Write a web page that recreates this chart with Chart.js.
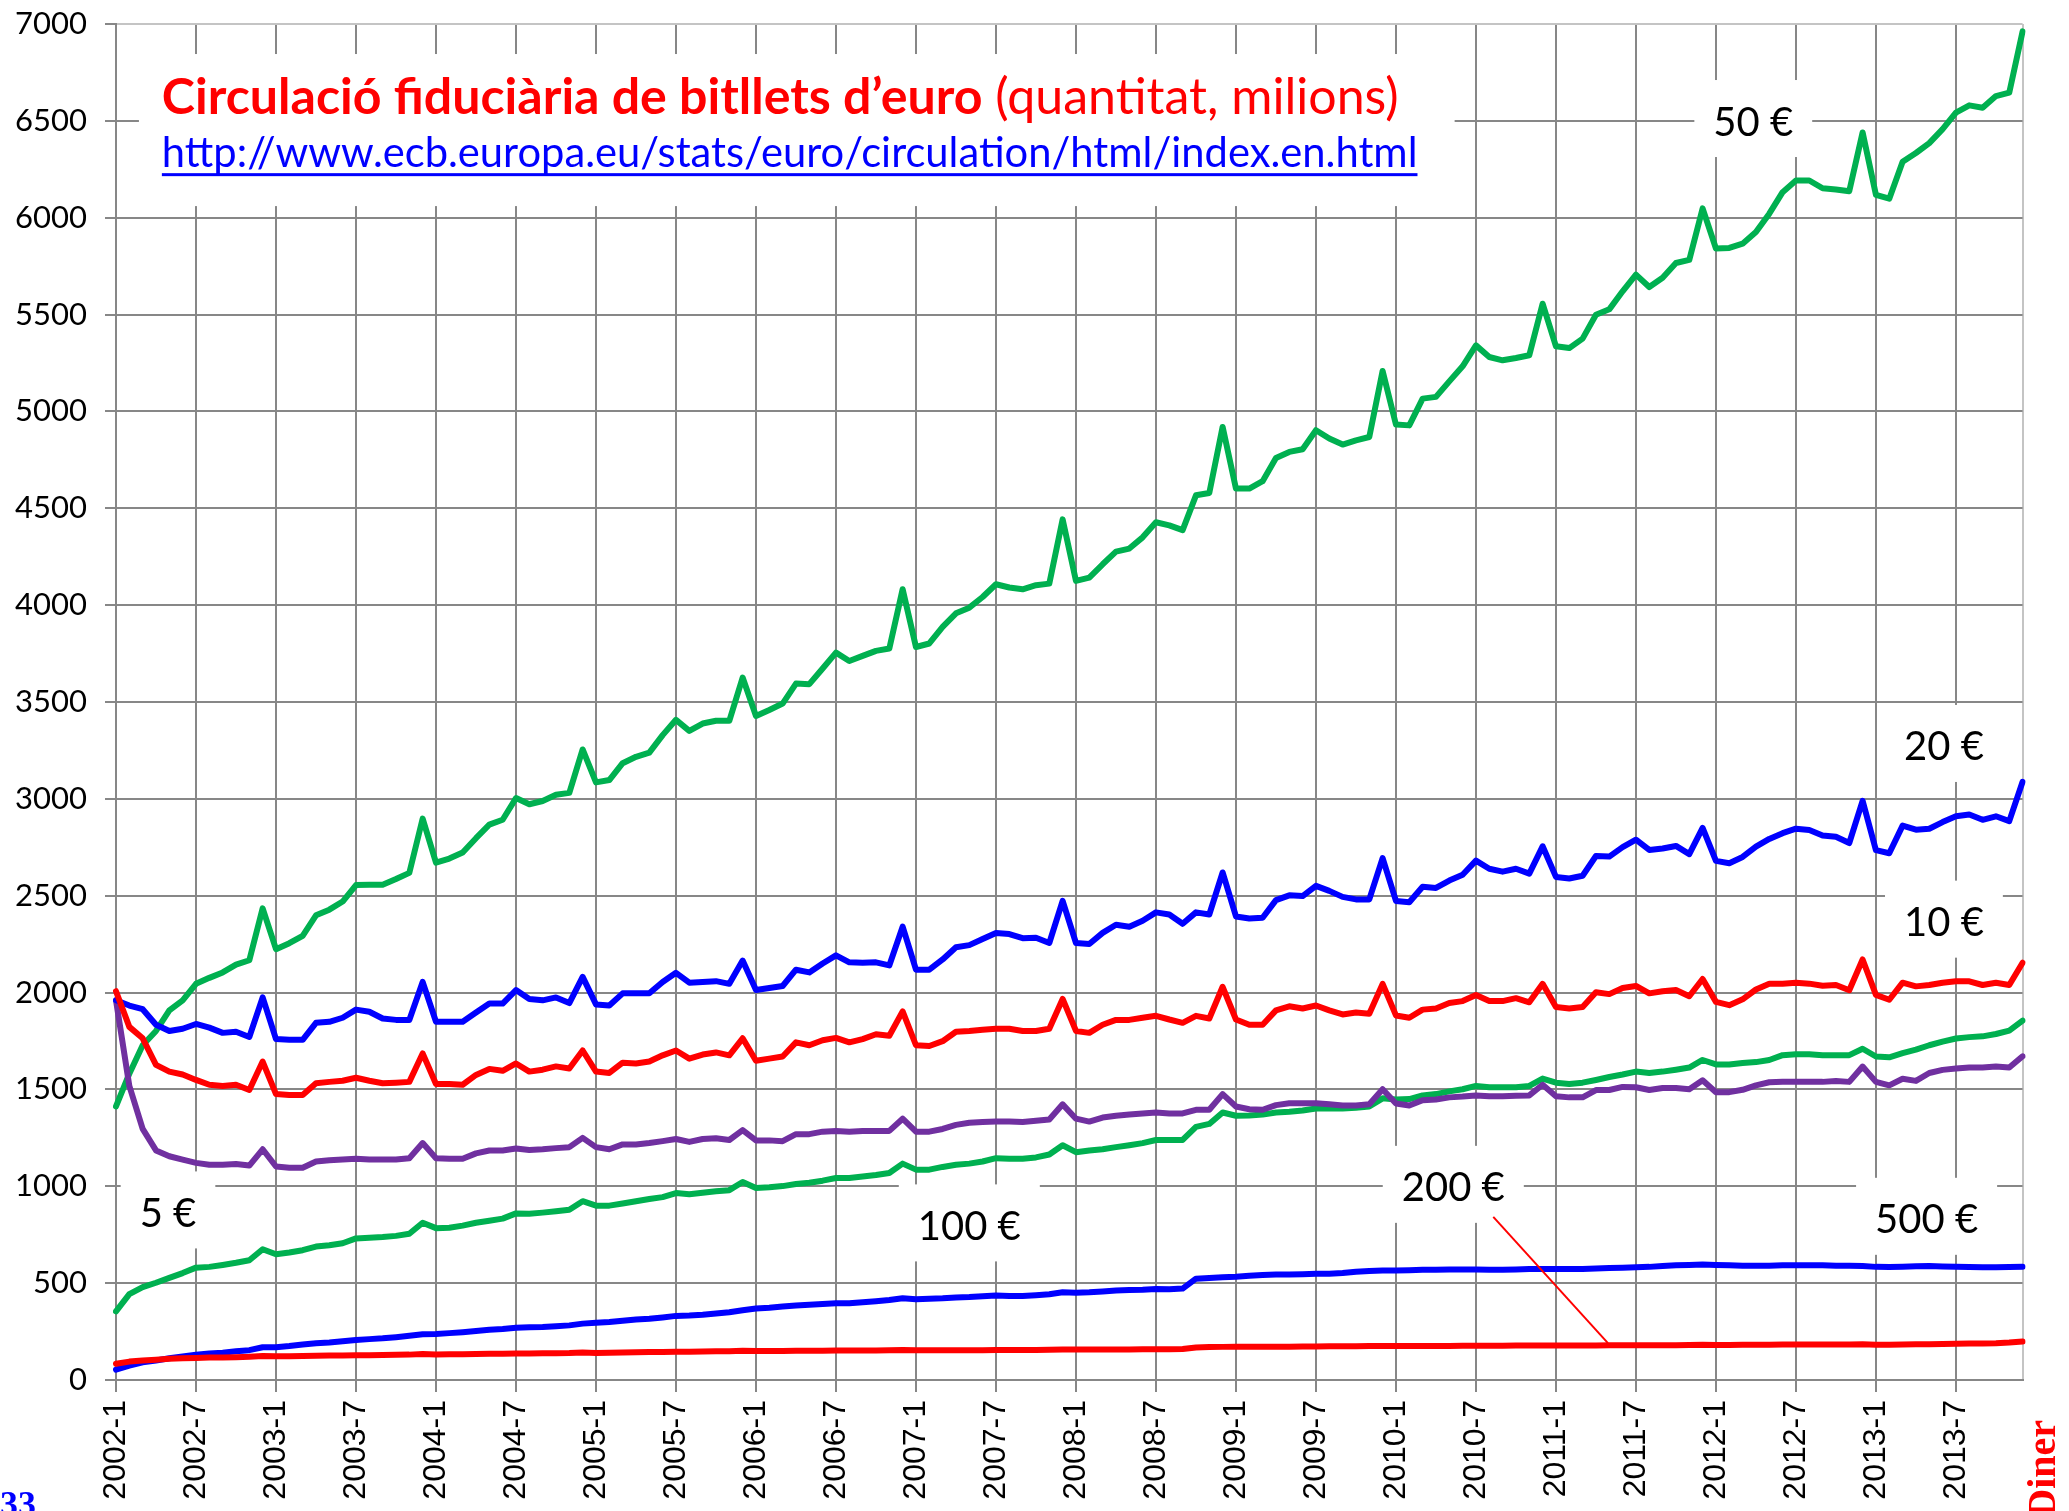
<!DOCTYPE html>
<html>
<head>
<meta charset="utf-8">
<script src="https://cdn.jsdelivr.net/npm/chart.js@4.4.1/dist/chart.umd.min.js"></script>
<style>
  html, body { margin: 0; padding: 0; background: #fff; }
  #wrap { width: 2069px; height: 1511px; }
</style>
</head>
<body>
<div id="wrap"><canvas id="chart" width="2069" height="1511"></canvas></div>
<script>
const years = [2002, 2003, 2004, 2005, 2006, 2007, 2008, 2009, 2010, 2011, 2012, 2013];
const months = [1, 2, 3, 4, 5, 6, 7, 8, 9, 10, 11, 12];

// bitllets en circulació, milions (llegits del gràfic)
const b5 = [
  1960,1518,1296,1185,1155,1138,1121,1111,1111,1115,1107,1191,
  1102,1096,1096,1128,1134,1138,1142,1138,1138,1138,1145,1223,
  1145,1142,1142,1170,1185,1185,1195,1187,1191,1197,1202,1250,
  1202,1191,1216,1216,1223,1233,1244,1229,1244,1248,1239,1290,
  1237,1237,1233,1269,1269,1282,1286,1282,1286,1286,1286,1349,
  1282,1282,1296,1317,1328,1332,1334,1334,1332,1338,1345,1423,
  1349,1334,1355,1364,1370,1376,1381,1376,1376,1395,1395,1476,
  1412,1398,1395,1419,1429,1429,1429,1423,1417,1417,1423,1501,
  1427,1417,1444,1448,1459,1463,1469,1465,1465,1467,1469,1524,
  1465,1459,1459,1497,1497,1513,1511,1497,1507,1507,1501,1547,
  1486,1486,1498,1521,1537,1539,1539,1539,1539,1544,1539,1618,
  1539,1521,1555,1544,1585,1601,1608,1613,1613,1618,1613,1671
];
const b10 = [
  2007,1823,1764,1627,1592,1577,1549,1524,1518,1524,1497,1644,
  1476,1471,1471,1532,1539,1545,1560,1545,1532,1535,1539,1686,
  1528,1528,1524,1575,1606,1596,1634,1592,1602,1619,1608,1701,
  1592,1585,1638,1634,1644,1676,1701,1659,1680,1691,1676,1764,
  1648,1659,1670,1743,1728,1754,1766,1743,1760,1785,1777,1903,
  1728,1724,1749,1798,1802,1808,1813,1813,1802,1802,1813,1967,
  1802,1792,1834,1859,1859,1870,1880,1861,1844,1880,1866,2030,
  1861,1834,1834,1908,1929,1918,1933,1908,1887,1897,1891,2045,
  1882,1870,1912,1918,1946,1956,1987,1956,1956,1971,1950,2045,
  1925,1918,1925,2002,1992,2024,2034,1996,2007,2013,1981,2070,
  1952,1935,1965,2016,2046,2046,2051,2046,2035,2039,2012,2171,
  1988,1963,2051,2032,2039,2051,2058,2058,2039,2051,2039,2154
];
const b20 = [
  1960,1933,1914,1834,1802,1813,1838,1819,1792,1798,1771,1975,
  1760,1756,1756,1844,1849,1870,1912,1901,1866,1859,1859,2055,
  1849,1849,1849,1897,1943,1943,2013,1967,1960,1975,1946,2081,
  1939,1933,1996,1996,1996,2055,2102,2051,2055,2059,2045,2165,
  2013,2024,2034,2118,2104,2150,2192,2156,2154,2156,2140,2340,
  2118,2118,2171,2234,2245,2277,2308,2302,2281,2283,2256,2473,
  2256,2251,2308,2350,2340,2371,2414,2403,2355,2414,2403,2620,
  2393,2382,2386,2477,2502,2498,2551,2525,2494,2481,2481,2694,
  2473,2466,2546,2540,2578,2608,2681,2639,2624,2639,2614,2755,
  2597,2589,2603,2705,2702,2751,2789,2736,2744,2757,2715,2850,
  2680,2668,2700,2753,2793,2823,2846,2839,2811,2804,2772,2990,
  2735,2719,2862,2841,2846,2880,2910,2919,2892,2910,2885,3088
];
const b50 = [
  1412,1581,1728,1802,1908,1960,2045,2076,2104,2144,2167,2435,
  2224,2255,2293,2399,2428,2470,2555,2557,2557,2586,2618,2898,
  2671,2692,2723,2797,2867,2892,3004,2972,2989,3021,3031,3255,
  3085,3097,3184,3217,3239,3329,3408,3351,3389,3403,3403,3626,
  3428,3459,3492,3595,3592,3673,3755,3712,3738,3764,3776,4082,
  3784,3802,3888,3958,3987,4042,4108,4091,4082,4103,4111,4443,
  4125,4142,4211,4276,4292,4350,4428,4412,4387,4567,4579,4920,
  4602,4602,4640,4760,4791,4805,4903,4860,4829,4851,4868,5209,
  4932,4928,5066,5075,5155,5233,5341,5281,5264,5276,5290,5556,
  5336,5327,5376,5499,5527,5620,5706,5642,5690,5766,5782,6048,
  5841,5844,5866,5926,6021,6132,6192,6192,6152,6146,6137,6440,
  6118,6098,6289,6334,6385,6457,6543,6580,6568,6628,6646,6962
];
const b100 = [
  354,443,479,502,527,552,580,584,594,605,618,675,
  649,658,670,689,696,706,731,734,738,744,755,812,
  784,786,797,812,822,833,860,858,864,871,879,923,
  900,900,911,923,934,944,965,959,967,974,980,1022,
  991,995,1001,1012,1018,1029,1043,1043,1050,1058,1069,1117,
  1086,1086,1100,1111,1117,1128,1145,1142,1142,1149,1164,1212,
  1176,1185,1191,1202,1212,1223,1239,1239,1239,1307,1322,1381,
  1364,1366,1370,1381,1385,1391,1402,1402,1402,1406,1412,1454,
  1448,1450,1469,1476,1490,1501,1518,1511,1511,1511,1518,1556,
  1535,1528,1535,1549,1564,1577,1592,1585,1592,1602,1613,1652,
  1629,1629,1636,1641,1652,1677,1682,1682,1677,1677,1677,1710,
  1670,1666,1687,1705,1728,1747,1763,1770,1774,1786,1804,1855
];
const b200 = [
  84,95,101,105,110,112,114,116,116,118,120,124,
  122,123,124,125,126,127,128,128,129,130,131,134,
  132,133,133,134,135,136,137,137,138,138,139,142,
  140,141,142,143,144,145,146,146,147,148,149,151,
  150,150,150,151,151,151,152,152,152,152,153,155,
  153,153,153,154,154,154,155,155,155,155,156,158,
  157,157,157,158,158,159,159,159,160,168,170,171,
  171,171,172,172,172,173,173,174,174,174,175,175,
  175,175,176,176,176,177,177,177,177,178,178,178,
  178,178,178,178,179,179,179,180,180,180,181,182,
  181,181,182,182,182,183,183,183,183,183,183,184,
  182,182,183,184,185,186,187,188,189,190,193,199
];
const b500 = [
  53,74,91,101,112,122,131,137,141,148,154,169,
  169,175,183,190,194,200,207,211,215,221,228,236,
  238,242,247,253,259,263,270,272,274,278,282,291,
  295,299,306,312,316,323,331,333,337,343,350,360,
  369,373,379,384,388,392,396,396,401,407,413,422,
  417,420,422,426,428,432,436,434,434,438,443,453,
  451,453,457,462,464,466,470,468,472,523,527,531,
  533,538,542,544,544,546,548,548,552,559,563,565,
  565,567,569,569,571,571,571,569,569,571,573,573,
  573,573,573,575,578,580,582,584,588,592,594,596,
  594,592,590,590,590,592,592,592,592,590,590,588,
  584,583,585,587,588,586,584,583,582,582,583,585
];

const labels = [];
years.forEach(y => months.forEach(m => labels.push(y + '-' + m)));

const GREEN = '#00B050', BLUE = '#0000FF', RED = '#FF0000', PURPLE = '#7030A0';
const GRID = '#878787';

const titleBold = 'Circulació fiduciària de bitllets d’euro';
const titleRest = ' (quantitat, milions)';
const linkText = 'http://www.ecb.europa.eu/stats/euro/circulation/html/index.en.html';

// etiquetes de sèrie: text, posició (índex de mes, valor)
const seriesLabels = [
  { text: '50 €', i: 122.8, v: 6512 },
  { text: '20 €', i: 137.1, v: 3286 },
  { text: '10 €', i: 137.1, v: 2379 },
  { text: '5 €', i: 3.9, v: 878 },
  { text: '100 €', i: 64.0, v: 811 },
  { text: '200 €', i: 100.3, v: 1010 },
  { text: '500 €', i: 135.8, v: 845 }
];

function line(label, data, color) {
  return {
    label: label, data: data, borderColor: color, backgroundColor: color,
    borderWidth: 6, pointRadius: 0, tension: 0, fill: false,
    borderJoinStyle: 'round', borderCapStyle: 'round'
  };
}

const decor = {
  id: 'decor',
  beforeDatasetsDraw(chart) {
    const ctx = chart.ctx;
    const sx = chart.scales.x, sy = chart.scales.y;
    ctx.save();
    // caixa del títol
    const bx0 = sx.getPixelForValue(1.72), bx1 = sx.getPixelForValue(100.4);
    const by0 = sy.getPixelForValue(6845), by1 = sy.getPixelForValue(6060);
    ctx.fillStyle = '#fff';
    ctx.fillRect(bx0, by0, bx1 - bx0, by1 - by0);

    const tx = sx.getPixelForValue(3.44);
    ctx.font = 'bold 50px Lato';
    const w1 = ctx.measureText(titleBold).width;
    ctx.font = '50px Lato';
    const w2 = ctx.measureText(titleRest).width;
    const ts = 50 * 1237 / (w1 + w2);
    const ty = sy.getPixelForValue(6535);
    ctx.fillStyle = RED;
    ctx.textBaseline = 'alphabetic';
    ctx.textAlign = 'left';
    ctx.font = 'bold ' + ts + 'px Lato';
    ctx.fillText(titleBold, tx, ty);
    const wb = ctx.measureText(titleBold).width;
    ctx.font = ts + 'px Lato';
    ctx.fillText(titleRest, tx + wb, ty);

    ctx.font = '50px Lato';
    const lw = ctx.measureText(linkText).width;
    const ls = 50 * 1256 / lw;
    const ly = sy.getPixelForValue(6261);
    ctx.font = ls + 'px Lato';
    ctx.fillStyle = BLUE;
    ctx.fillText(linkText, tx, ly);
    ctx.fillRect(tx, ly + 6, ctx.measureText(linkText).width, 3);

    // etiquetes
    ctx.font = '40px Lato';
    seriesLabels.forEach(l => {
      const cx = sx.getPixelForValue(l.i), cy = sy.getPixelForValue(l.v);
      const w = ctx.measureText(l.text).width;
      const bw = w + 38, bh = 77;
      let left = cx - bw / 2;
      if (left < chart.chartArea.left + 1) left = chart.chartArea.left + 1;
      ctx.fillStyle = '#fff';
      ctx.fillRect(left, cy - bh / 2, bw, bh);
      ctx.fillStyle = '#000';
      ctx.textAlign = 'center';
      ctx.fillText(l.text, cx, cy + 17);
    });
    ctx.restore();
  },
  afterDatasetsDraw(chart) {
    const ctx = chart.ctx;
    const sx = chart.scales.x, sy = chart.scales.y;
    ctx.save();
    ctx.strokeStyle = RED;
    ctx.lineWidth = 2;
    ctx.beginPath();
    ctx.moveTo(sx.getPixelForValue(103.3), sy.getPixelForValue(842));
    ctx.lineTo(sx.getPixelForValue(111.9), sy.getPixelForValue(190));
    ctx.stroke();
    ctx.restore();
  },
  afterDraw(chart) {
    const ctx = chart.ctx;
    ctx.save();
    ctx.font = 'bold 36px "Liberation Serif"';
    ctx.fillStyle = BLUE;
    ctx.textAlign = 'left';
    ctx.textBaseline = 'alphabetic';
    ctx.fillText('33', 0, 1516);
    ctx.translate(2055, 1420);
    ctx.rotate(-Math.PI / 2);
    ctx.font = 'bold 40px "Liberation Serif"';
    ctx.fillStyle = RED;
    ctx.textAlign = 'right';
    ctx.fillText('Diner', 0, 0);
    ctx.restore();
  }
};

new Chart(document.getElementById('chart'), {
  type: 'line',
  data: {
    labels: labels,
    datasets: [
      line('200 €', b200, RED),
      line('10 €', b10, RED),
      line('500 €', b500, BLUE),
      line('20 €', b20, BLUE),
      line('5 €', b5, PURPLE),
      line('100 €', b100, GREEN),
      line('50 €', b50, GREEN)
    ]
  },
  options: {
    responsive: false,
    animation: false,
    events: [],
    layout: { padding: { left: 0, right: 42, top: 24, bottom: 0 } },
    plugins: { legend: { display: false }, tooltip: { enabled: false } },
    scales: {
      x: {
        type: 'category',
        offset: false,
        afterFit: s => { s.height = 131; },
        border: { color: GRID, width: 2 },
        grid: {
          offset: false,
          lineWidth: 2,
          tickLength: 12,
          color: c => c.index === 143 ? '#c4c4c4' : (c.index % 6 === 0 ? GRID : 'rgba(0,0,0,0)'),
          tickColor: c => (c.index % 6 === 0 && c.index !== 143) ? GRID : 'rgba(0,0,0,0)'
        },
        ticks: {
          autoSkip: false,
          minRotation: 90,
          maxRotation: 90,
          padding: 8,
          color: '#000',
          font: { family: '"Liberation Sans"', size: 32 },
          callback: function (val, i) { return i % 6 === 0 ? this.getLabelForValue(val) : ''; }
        }
      },
      y: {
        min: 0,
        max: 7000,
        afterFit: s => { s.width = 116; s.paddingTop = 0; s.paddingBottom = 0; },
        border: { color: GRID, width: 2 },
        grid: {
          lineWidth: 2,
          tickLength: 11,
          color: c => (c.tick && c.tick.value === 7000) ? '#c4c4c4' : GRID,
          tickColor: GRID
        },
        ticks: {
          stepSize: 500,
          padding: 18,
          color: '#000',
          font: { family: 'Lato', size: 31 },
          callback: v => String(v)
        }
      }
    }
  },
  plugins: [decor]
});
</script>
</body>
</html>
